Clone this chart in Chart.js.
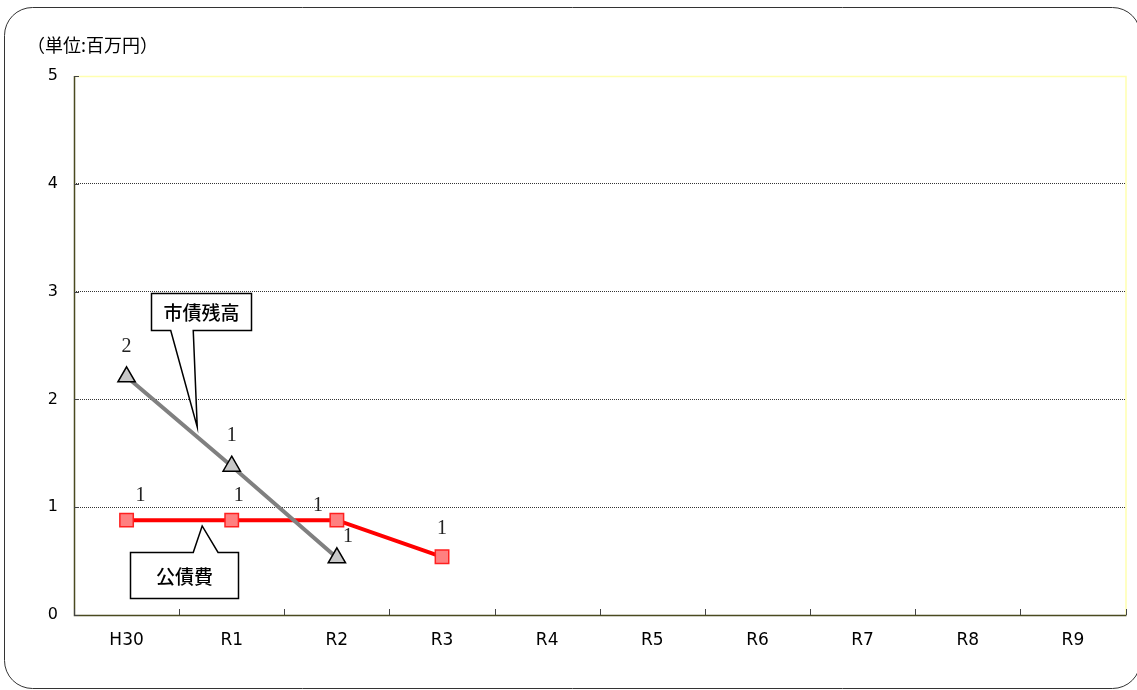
<!DOCTYPE html>
<html><head><meta charset="utf-8">
<script src="https://cdn.jsdelivr.net/npm/chart.js@4/dist/chart.umd.min.js"></script>
<style>html,body{margin:0;padding:0;background:#fff;}#wrap{width:1137px;height:690px;position:relative;}</style>
</head><body><div id="wrap"><canvas id="c" width="1137" height="690"></canvas></div>
<script>
const categories = ['H30','R1','R2','R3','R4','R5','R6','R7','R8','R9'];
const bondBalance = [2.21, 1.38, 0.53, null, null, null, null, null, null, null]; // 市債残高
const debtService = [0.88, 0.88, 0.88, 0.54, null, null, null, null, null, null]; // 公債費
const bondBalanceLabels = ['2','1','1'];
const debtServiceLabels = ['1','1','1','1'];
const yTicks = [0,1,2,3,4,5];
const unitLabel = '（単位:百万円）';
const seriesNames = ['市債残高','公債費'];

// label offsets (px) – styling
const balOff = [[0,-30],[0,-30],[11,-21]];
const debtOff = [[14,-24],[7,-24],[-19,-14],[0,-28]];

const decor = {
  id:'decor',
  beforeDraw(chart){
    const ctx=chart.ctx;
    ctx.save();
    ctx.fillStyle='#fff';ctx.fillRect(0,0,chart.width,chart.height);
    ctx.strokeStyle='#333';ctx.lineWidth=1;
    ctx.beginPath();
    if(ctx.roundRect){ctx.roundRect(4.5,7.5,1136,681,28);} else {ctx.rect(4.5,7.5,1136,681);}
    ctx.stroke();
    ctx.fillStyle='#000';ctx.font='18px "Noto Sans CJK JP"';ctx.textBaseline='middle';ctx.textAlign='left';
    ctx.fillText(unitLabel,27,45);
    ctx.restore();
  },
  afterDatasetsDraw(chart){
    const ctx=chart.ctx, x=chart.scales.x, y=chart.scales.y, a=chart.chartArea;
    ctx.save();
    ctx.lineWidth=1.5;
    ctx.strokeStyle='#ffffb0';
    ctx.beginPath();ctx.moveTo(a.left,a.top+0.5);ctx.lineTo(a.right+0.5,a.top+0.5);ctx.lineTo(a.right+0.5,a.bottom);ctx.stroke();
    ctx.strokeStyle='#4a4a20';
    ctx.beginPath();ctx.moveTo(a.left+0.5,a.top);ctx.lineTo(a.left+0.5,a.bottom+0.5);ctx.lineTo(a.right+1,a.bottom+0.5);ctx.stroke();
    ctx.lineWidth=1;
    ctx.strokeStyle='#444';
    for(let i=0;i<=categories.length;i++){
      const px=Math.round(x.getPixelForValue(i-0.5))+0.5;
      ctx.beginPath();ctx.moveTo(px,a.bottom);ctx.lineTo(px,a.bottom-6);ctx.stroke();
    }
    yTicks.forEach(v=>{const py=Math.round(y.getPixelForValue(v))+0.5;ctx.beginPath();ctx.moveTo(a.left,py);ctx.lineTo(a.left+5,py);ctx.stroke();});
    ctx.restore();

    const P=(i,v)=>[x.getPixelForValue(i),y.getPixelForValue(v)];
    function callout(box, b1, b2, tip, text, fromTop){
      const [x1,y1]=P(box[0],box[1]); const [x2,y2]=P(box[2],box[3]);
      const bx1=P(b1,0)[0], bx2=P(b2,0)[0]; const [tx,ty]=P(tip[0],tip[1]);
      const L=Math.round(x1)+0.5,R=Math.round(x2)+0.5,T=Math.round(y1)+0.5,B=Math.round(y2)+0.5;
      ctx.save();
      ctx.fillStyle='#fff';ctx.strokeStyle='#000';ctx.lineWidth=1.5;
      ctx.beginPath();
      ctx.moveTo(L,T);
      if(fromTop){ctx.lineTo(bx1,T);ctx.lineTo(tx,ty);ctx.lineTo(bx2,T);}
      ctx.lineTo(R,T);ctx.lineTo(R,B);
      if(!fromTop){ctx.lineTo(bx2,B);ctx.lineTo(tx,ty);ctx.lineTo(bx1,B);}
      ctx.lineTo(L,B);ctx.closePath();
      ctx.fill();ctx.stroke();
      ctx.fillStyle='#000';ctx.font='500 19px "Noto Sans CJK JP"';ctx.textAlign='center';ctx.textBaseline='middle';
      ctx.fillText(text,(L+R)/2,(T+B)/2+1);
      ctx.restore();
    }
    callout([0.237,2.987,1.183,2.644],0.42,0.634,[0.672,1.744],seriesNames[0],false);
    callout([0.028,0.584,1.06,0.158],0.634,0.870,[0.719,0.826],seriesNames[1],true);

    ctx.save();
    ctx.fillStyle='#222';ctx.font='20px "Liberation Serif"';ctx.textAlign='center';ctx.textBaseline='middle';
    bondBalanceLabels.forEach((t,i)=>{const [px,py]=P(i,bondBalance[i]);ctx.fillText(t,px+balOff[i][0],py+balOff[i][1]);});
    debtServiceLabels.forEach((t,i)=>{const [px,py]=P(i,debtService[i]);ctx.fillText(t,px+debtOff[i][0],py+debtOff[i][1]);});
    ctx.restore();
  }
};

new Chart(document.getElementById('c'),{
  type:'line',
  data:{labels:categories,datasets:[
    {label:seriesNames[0],data:bondBalance,borderColor:'#808080',borderWidth:4,pointStyle:'triangle',pointRadius:10,pointHoverRadius:10,pointBackgroundColor:'#c8c8c8',pointBorderColor:'#000',pointBorderWidth:1.5,spanGaps:false,tension:0},
    {label:seriesNames[1],data:debtService,borderColor:'#ff0000',borderWidth:4,pointStyle:'rect',pointRadius:9.5,pointHoverRadius:9.5,pointBackgroundColor:'#ff8080',pointBorderColor:'#ff2020',pointBorderWidth:1.5,spanGaps:false,tension:0}
  ]},
  options:{
    responsive:false,animation:false,
    layout:{padding:{left:0,top:76,right:6,bottom:0}},
    plugins:{legend:{display:false},tooltip:{enabled:false},title:{display:false}},
    scales:{
      x:{offset:true,grid:{display:false,drawTicks:false},border:{display:false},
         ticks:{color:'#000',font:{family:'"DejaVu Sans"',size:17},padding:15,maxRotation:0,autoSkip:false},
         afterFit(s){s.height=75;s.paddingLeft=0;s.paddingRight=0;}},
      y:{min:0,max:5,afterBuildTicks(s){s.ticks=yTicks.map(v=>({value:v}));},
         grid:{color:'#000',lineWidth:0.8,drawTicks:false},
         border:{display:false,dash:[1,1]},
         ticks:{color:'#000',font:{family:'"DejaVu Sans"',size:16},padding:16},
         afterFit(s){s.width=74;s.paddingTop=0;s.paddingBottom=0;}}
    }
  },
  plugins:[decor]
});
</script></body></html>
